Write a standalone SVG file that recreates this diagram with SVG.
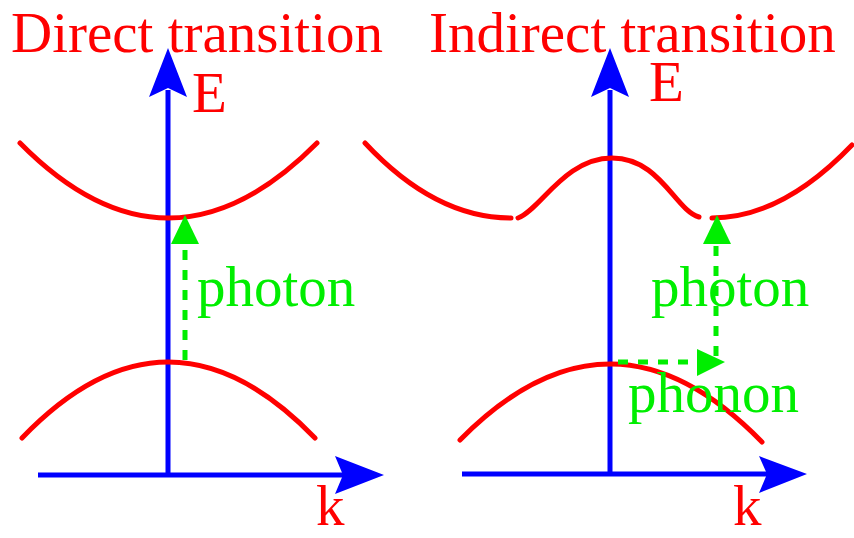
<svg xmlns="http://www.w3.org/2000/svg" width="854" height="538" viewBox="0 0 854 538">
<style>
.t{font-family:"Liberation Serif","Times New Roman",serif;font-size:57px}
.red{fill:#f00}
.grn{fill:#00ee00}
.band{fill:none;stroke:#f00;stroke-width:5;stroke-linecap:round}
.axis{fill:none;stroke:#00f;stroke-width:5}
.ahead{fill:#00f}
.dash{fill:none;stroke:#00ee00;stroke-width:5;stroke-dasharray:10 10}
.ghead{fill:#00ee00}
</style>
<rect width="854" height="538" fill="#fff"/>
<g id="titles">
<text class="t red" x="11" y="52">Direct transition</text>
<text class="t red" x="429" y="52">Indirect transition</text>
</g>
<g id="left-axes">
<line class="axis" x1="168" y1="476" x2="168" y2="90"/>
<path class="ahead" d="M168,48 L187,97 L168,88 L149,97 Z"/>
<line class="axis" x1="38" y1="475" x2="345" y2="475"/>
<path class="ahead" d="M384,475 L335,456 L343,475 L335,494 Z"/>
<text class="t red" x="192" y="112">E</text>
<text class="t red" x="316" y="525">k</text>
</g>
<g id="left-bands">
<path class="band" d="M20,143 Q168,293 317,143"/>
<path class="band" d="M22,438 Q168,286 315,438"/>
</g>
<g id="left-photon">
<line class="dash" x1="185" y1="360" x2="185" y2="240"/>
<path class="ghead" d="M185,215 L199,244 L171,244 Z"/>
<text class="t grn" x="197" y="306">photon</text>
</g>
<g id="right-axes">
<line class="axis" x1="610" y1="476" x2="610" y2="90"/>
<path class="ahead" d="M610,48 L629,97 L610,88 L591,97 Z"/>
<line class="axis" x1="462" y1="474" x2="768" y2="474"/>
<path class="ahead" d="M807,474 L759,456 L767,474 L759,493 Z"/>
<text class="t red" x="649" y="101">E</text>
<text class="t red" x="733" y="525">k</text>
</g>
<g id="right-bands">
<path class="band" d="M365,143 Q435,218 511,218"/>
<path class="band" d="M518,218 C540,210 565,158 612,158 C660,158 675,210 699,217"/>
<path class="band" d="M712,218 Q782,218 852,145"/>
<path class="band" d="M460,440 Q611,287 762,442"/>
</g>
<g id="right-transitions">
<line class="dash" x1="716" y1="356" x2="716" y2="240"/>
<path class="ghead" d="M717,215 L731,244 L703,244 Z"/>
<line class="dash" x1="618" y1="362" x2="700" y2="362"/>
<path class="ghead" d="M725,362 L697,349 L697,376 Z"/>
<text class="t grn" x="651" y="306">photon</text>
<text class="t grn" x="628" y="412">phonon</text>
</g>
</svg>
